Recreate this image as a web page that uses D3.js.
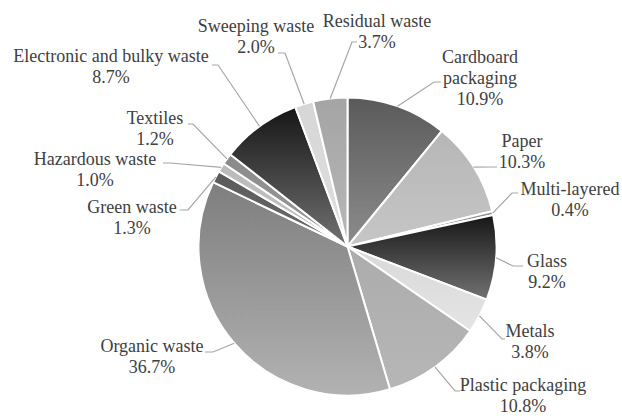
<!DOCTYPE html>
<html>
<head>
<meta charset="utf-8">
<script src="https://cdn.jsdelivr.net/npm/d3@7"></script>
<style>
  html, body { margin: 0; padding: 0; background: #ffffff; }
  svg { display: block; }
  .lbl { font-family: "Liberation Serif", "Times New Roman", Times, Tinos, "DejaVu Serif", serif; font-size: 18px; fill: #404040; }
</style>
</head>
<body>
<svg id="chart" width="622" height="416"></svg>
<script>
// ---- data ----
const categories = [
  "Cardboard packaging", "Paper", "Multi-layered", "Glass", "Metals",
  "Plastic packaging", "Organic waste", "Green waste", "Hazardous waste",
  "Textiles", "Electronic and bulky waste", "Sweeping waste", "Residual waste"
];
const shares = [10.9, 10.3, 0.4, 9.2, 3.8, 10.8, 36.7, 1.3, 1.0, 1.2, 8.7, 2.0, 3.7];
const labelLines = [
  ["Cardboard", "packaging"], ["Paper"], ["Multi-layered"], ["Glass"], ["Metals"],
  ["Plastic packaging"], ["Organic waste"], ["Green waste"], ["Hazardous waste"],
  ["Textiles"], ["Electronic and bulky waste"], ["Sweeping waste"], ["Residual waste"]
];

// ---- styles / layout ----
const gradTop    = ["#5a5a5a", "#b6b6b6", "#8e8e8e", "#161616", "#d9d9d9", "#acacac", "#7e7e7e", "#5a5a5a", "#bababa", "#8a8a8a", "#161616", "#d6d6d6", "#a4a4a4"];
const gradBottom = ["#8c8c8c", "#c6c6c6", "#a0a0a0", "#727272", "#e4e4e4", "#b6b6b6", "#b2b2b2", "#6c6c6c", "#c4c4c4", "#9c9c9c", "#727272", "#e0e0e0", "#b8b8b8"];
// label layout: text centre x, first baseline y, leader end (tx,ty), elbow x
const labelLayout = [
  {cx: 480, y: 63,  tx: 441, ty: 82,  ex: 434},
  {cx: 522, y: 147, tx: 497, ty: 167, ex: 490},
  {cx: 570, y: 195, tx: 518, ty: 193, ex: 512},
  {cx: 547, y: 267, tx: 523, ty: 266, ex: 513},
  {cx: 530, y: 337, tx: 505, ty: 339, ex: 502},
  {cx: 523, y: 391, tx: 460, ty: 391, ex: 455},
  {cx: 152, y: 352, tx: 205, ty: 352, ex: 213},
  {cx: 132, y: 213, tx: 180, ty: 210, ex: 188},
  {cx: 95,  y: 165, tx: 163, ty: 163, ex: 170},
  {cx: 155, y: 124, tx: 188, ty: 124, ex: 193},
  {cx: 111, y: 62,  tx: 212, ty: 65,  ex: 218},
  {cx: 256, y: 32,  tx: 278, ty: 53,  ex: 285},
  {cx: 377, y: 27,  tx: 357, ty: 42,  ex: 352}
];
const cx = 347.5, cy = 246.5, R = 149;
const lineH = 21;

const data = categories.map((c, i) => ({name: c, value: shares[i], i}));

const svg = d3.select("#chart");
const defs = svg.append("defs");
data.forEach(d => {
  const g = defs.append("linearGradient")
    .attr("id", "g" + d.i)
    .attr("x1", 0).attr("y1", 0).attr("x2", 0).attr("y2", 1);
  g.append("stop").attr("offset", "0%").attr("stop-color", gradTop[d.i]);
  g.append("stop").attr("offset", "100%").attr("stop-color", gradBottom[d.i]);
});

const pie = d3.pie().sort(null).value(d => d.value).startAngle(0).endAngle(2 * Math.PI);
const arc = d3.arc().innerRadius(0).outerRadius(R);
const arcs = pie(data);

const gPie = svg.append("g").attr("transform", `translate(${cx},${cy})`);
gPie.selectAll("path.slice")
  .data(arcs)
  .join("path")
  .attr("class", "slice")
  .attr("d", arc)
  .attr("fill", d => `url(#g${d.data.i})`)
  .attr("stroke", "#ffffff")
  .attr("stroke-width", 2)
  .attr("stroke-linejoin", "round");

// leader lines
const gLines = svg.append("g");
arcs.forEach(a => {
  const m = (a.startAngle + a.endAngle) / 2;
  const px = cx + R * Math.sin(m), py = cy - R * Math.cos(m);
  const L = labelLayout[a.data.i];
  gLines.append("polyline")
    .attr("points", `${px},${py} ${L.ex},${L.ty} ${L.tx},${L.ty}`)
    .attr("fill", "none")
    .attr("stroke", "#a6a6a6")
    .attr("stroke-width", 1.2);
});

// labels
const gLab = svg.append("g").attr("text-anchor", "middle");
arcs.forEach(a => {
  const i = a.data.i;
  const L = labelLayout[i];
  const lines = labelLines[i].concat([shares[i].toFixed(1) + "%"]);
  const t = gLab.append("text").attr("class", "lbl");
  lines.forEach((s, k) => {
    t.append("tspan").attr("x", L.cx).attr("y", L.y + k * lineH).text(s);
  });
});
</script>
</body>
</html>
